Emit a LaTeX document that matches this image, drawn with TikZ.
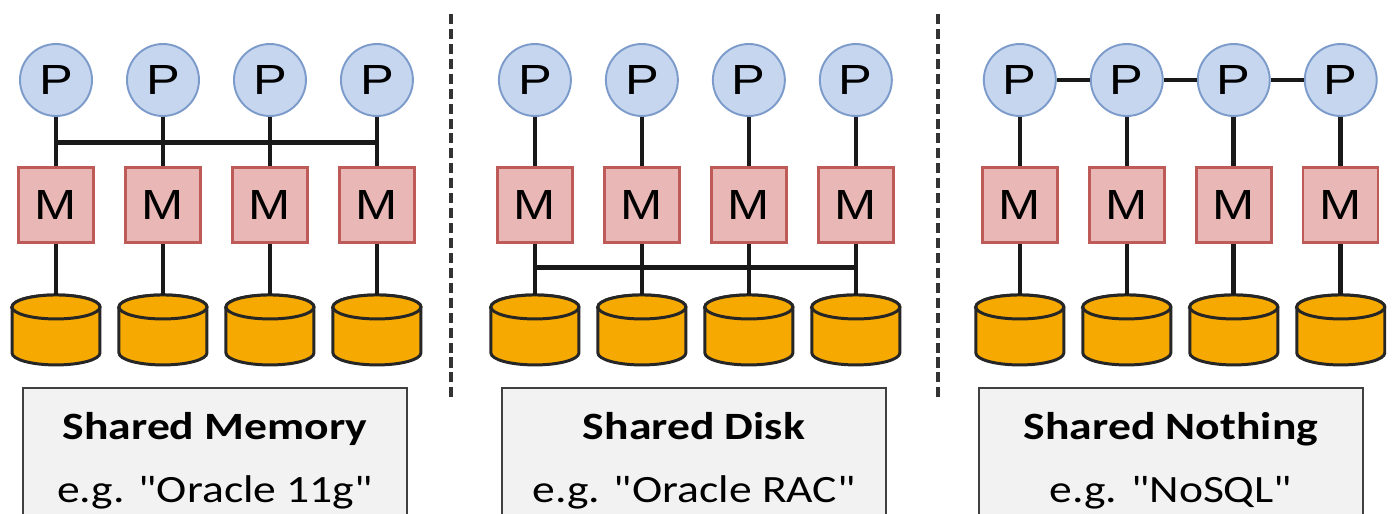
\documentclass[tikz,border=0pt]{standalone}
\usepackage{fontspec}
\setmainfont{Carlito}[Ligatures=TeXOff, FakeStretch=1.18]
\newfontfamily\pmfont{Liberation Sans}[FakeStretch=1.2]
\usetikzlibrary{calc,positioning}

\definecolor{procfill}{HTML}{C6D6EF}
\definecolor{procedge}{HTML}{7C9BCB}
\definecolor{memfill}{HTML}{E9B8B6}
\definecolor{memedge}{HTML}{BE5A57}
\definecolor{diskfill}{HTML}{F6A900}
\definecolor{capfill}{HTML}{F2F2F2}

\tikzset{
    proc/.style={circle, draw=procedge, fill=procfill, line width=1.1pt,
        minimum size=1.44cm, inner sep=0pt,
        font=\pmfont\fontsize{24}{24}\selectfont},
    mem/.style={rectangle, draw=memedge, fill=memfill, line width=1.4pt,
        minimum size=1.5cm, inner sep=0pt,
        font=\pmfont\fontsize{24}{24}\selectfont},
    disk/.style={rectangle, minimum width=1.76cm, minimum height=1.4cm,
        inner sep=0pt, outer sep=0pt},
    diskline/.style={draw=black!85, fill=diskfill, line width=1.7pt},
    caption/.style={rectangle, draw=black!75, fill=capfill, line width=1.4pt,
        minimum width=7.68cm, minimum height=2.92cm, align=center,
        font=\fontsize{22}{36}\selectfont},
    link/.style={line width=2.6pt, draw=black!90},
    sep/.style={line width=2pt, draw=black!80, dash pattern=on 5.7pt off 2.8pt}
}

% cylinder drawn over a disk node
\newcommand\drawdisk[1]{%
    \draw[diskline] ($(#1.north west)+(0,-0.24cm)$)
        -- ($(#1.south west)+(0,0.24cm)$)
        arc[start angle=180, end angle=360, x radius=0.88cm, y radius=0.24cm]
        -- ($(#1.north east)+(0,-0.24cm)$)
        arc[start angle=0, end angle=180, x radius=0.88cm, y radius=0.24cm]
        -- cycle;
    \draw[diskline] ($(#1.north)+(0,-0.24cm)$)
        ellipse[x radius=0.88cm, y radius=0.24cm];
}

\begin{document}
\begin{tikzpicture}[x=0.02cm, y=-0.02cm, node distance=2.14cm]
    \useasboundingbox (0,0) rectangle (1397,514);

    % processors
    \node[proc] (p1) at (56,80) {P};
    \node[proc, right of=p1] (p2) {P};
    \node[proc, right of=p2] (p3) {P};
    \node[proc, right of=p3] (p4) {P};
    \node[proc, node distance=3.16cm, right of=p4] (p5) {P};
    \node[proc, right of=p5] (p6) {P};
    \node[proc, right of=p6] (p7) {P};
    \node[proc, right of=p7] (p8) {P};
    \node[proc, node distance=3.28cm, right of=p8] (p9) {P};
    \node[proc, right of=p9] (p10) {P};
    \node[proc, right of=p10] (p11) {P};
    \node[proc, right of=p11] (p12) {P};

    % memories
    \node[mem, node distance=2.5cm, below of=p1] (m1) {M};
    \node[mem, node distance=2.5cm, below of=p2] (m2) {M};
    \node[mem, node distance=2.5cm, below of=p3] (m3) {M};
    \node[mem, node distance=2.5cm, below of=p4] (m4) {M};
    \node[mem, node distance=2.5cm, below of=p5] (m5) {M};
    \node[mem, node distance=2.5cm, below of=p6] (m6) {M};
    \node[mem, node distance=2.5cm, below of=p7] (m7) {M};
    \node[mem, node distance=2.5cm, below of=p8] (m8) {M};
    \node[mem, node distance=2.5cm, below of=p9] (m9) {M};
    \node[mem, node distance=2.5cm, below of=p10] (m10) {M};
    \node[mem, node distance=2.5cm, below of=p11] (m11) {M};
    \node[mem, node distance=2.5cm, below of=p12] (m12) {M};

    % disks
    \node[disk, node distance=2.5cm, below of=m1] (d1) {};
    \node[disk, node distance=2.5cm, below of=m2] (d2) {};
    \node[disk, node distance=2.5cm, below of=m3] (d3) {};
    \node[disk, node distance=2.5cm, below of=m4] (d4) {};
    \node[disk, node distance=2.5cm, below of=m5] (d5) {};
    \node[disk, node distance=2.5cm, below of=m6] (d6) {};
    \node[disk, node distance=2.5cm, below of=m7] (d7) {};
    \node[disk, node distance=2.5cm, below of=m8] (d8) {};
    \node[disk, node distance=2.5cm, below of=m9] (d9) {};
    \node[disk, node distance=2.5cm, below of=m10] (d10) {};
    \node[disk, node distance=2.5cm, below of=m11] (d11) {};
    \node[disk, node distance=2.5cm, below of=m12] (d12) {};
    \drawdisk{d1} \drawdisk{d2} \drawdisk{d3} \drawdisk{d4}
    \drawdisk{d5} \drawdisk{d6} \drawdisk{d7} \drawdisk{d8}
    \drawdisk{d9} \drawdisk{d10} \drawdisk{d11} \drawdisk{d12}

    % captions
    \node[caption] (cap1) at (215,461) {\textbf{Shared Memory}\\e.g. "Oracle 11g"};
    \node[caption] (cap2) at (694,461) {\textbf{Shared Disk}\\e.g. "Oracle RAC"};
    \node[caption] (cap3) at (1171,461) {\textbf{Shared Nothing}\\e.g. "NoSQL"};

    % processor to memory
    \draw[link] (p1) -- (m1);
    \draw[link] (p2) -- (m2);
    \draw[link] (p3) -- (m3);
    \draw[link] (p4) -- (m4);
    \draw[link] (p5) -- (m5);
    \draw[link] (p6) -- (m6);
    \draw[link] (p7) -- (m7);
    \draw[link] (p8) -- (m8);
    \draw[link] (p9) -- (m9);
    \draw[link] (p10) -- (m10);
    \draw[link] (p11) -- (m11);
    \draw[link] (p12) -- (m12);

    % memory to disk
    \draw[link] (m1) -- (d1);
    \draw[link] (m2) -- (d2);
    \draw[link] (m3) -- (d3);
    \draw[link] (m4) -- (d4);
    \draw[link] (m5) -- (d5);
    \draw[link] (m6) -- (d6);
    \draw[link] (m7) -- (d7);
    \draw[link] (m8) -- (d8);
    \draw[link] (m9) -- (d9);
    \draw[link] (m10) -- (d10);
    \draw[link] (m11) -- (d11);
    \draw[link] (m12) -- (d12);

    % shared memory bus
    \coordinate (bus1) at ($(p1)!0.5!(m1)$);
    \coordinate (bus4) at ($(p4)!0.5!(m4)$);
    \draw[link] (bus1) -- (bus4);

    % shared disk bus
    \coordinate (bus5) at ($(m5)!0.5!(d5)$);
    \coordinate (bus8) at ($(m8)!0.5!(d8)$);
    \draw[link] (bus5) -- (bus8);

    % shared nothing network
    \draw[link] (p9) -- (p10);
    \draw[link] (p10) -- (p11);
    \draw[link] (p11) -- (p12);

    % separators
    \draw[sep] (451,14) -- (451,398);
    \draw[sep] (938,14) -- (938,398);
\end{tikzpicture}
\end{document}
